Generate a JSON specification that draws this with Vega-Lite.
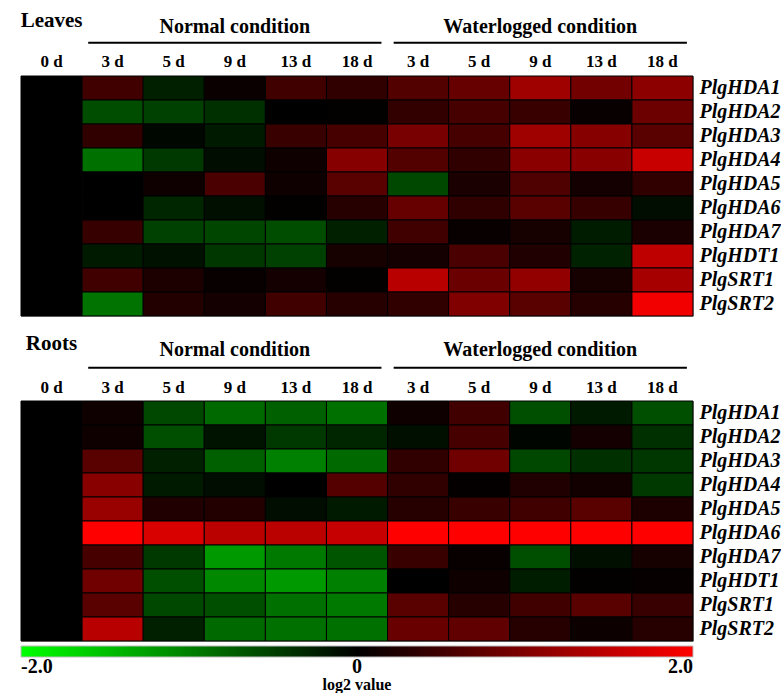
{
"$schema": "https://vega.github.io/schema/vega-lite/v6.json",
"padding": {"left": 20, "top": 0, "right": 0, "bottom": 0},
"background": "white",
"spacing": 0,
"config": {"view": {"stroke": null}, "font": "Liberation Serif", "concat": {"spacing": 0}},
"resolve": {"scale": {"color": "shared"}, "legend": {"color": "shared"}},
"datasets": {
"hdrL": [
{"kind": "tissue", "level": "group", "col": "c0", "text": "Leaves"},
{"kind": "cond", "level": "group", "col": "n9", "text": "Normal condition"},
{"kind": "cond", "level": "group", "col": "w9", "text": "Waterlogged condition"},
{"kind": "line", "level": "line", "col": "n3", "to": "n18"},
{"kind": "line", "level": "line", "col": "w3", "to": "w18"},
{"kind": "day", "level": "day", "col": "c0", "text": "0 d"},
{"kind": "day", "level": "day", "col": "n3", "text": "3 d"},
{"kind": "day", "level": "day", "col": "n5", "text": "5 d"},
{"kind": "day", "level": "day", "col": "n9", "text": "9 d"},
{"kind": "day", "level": "day", "col": "n13", "text": "13 d"},
{"kind": "day", "level": "day", "col": "n18", "text": "18 d"},
{"kind": "day", "level": "day", "col": "w3", "text": "3 d"},
{"kind": "day", "level": "day", "col": "w5", "text": "5 d"},
{"kind": "day", "level": "day", "col": "w9", "text": "9 d"},
{"kind": "day", "level": "day", "col": "w13", "text": "13 d"},
{"kind": "day", "level": "day", "col": "w18", "text": "18 d"}
],
"hdrR": [
{"kind": "tissue", "level": "group", "col": "c0", "text": "Roots"},
{"kind": "cond", "level": "group", "col": "n9", "text": "Normal condition"},
{"kind": "cond", "level": "group", "col": "w9", "text": "Waterlogged condition"},
{"kind": "line", "level": "line", "col": "n3", "to": "n18"},
{"kind": "line", "level": "line", "col": "w3", "to": "w18"},
{"kind": "day", "level": "day", "col": "c0", "text": "0 d"},
{"kind": "day", "level": "day", "col": "n3", "text": "3 d"},
{"kind": "day", "level": "day", "col": "n5", "text": "5 d"},
{"kind": "day", "level": "day", "col": "n9", "text": "9 d"},
{"kind": "day", "level": "day", "col": "n13", "text": "13 d"},
{"kind": "day", "level": "day", "col": "n18", "text": "18 d"},
{"kind": "day", "level": "day", "col": "w3", "text": "3 d"},
{"kind": "day", "level": "day", "col": "w5", "text": "5 d"},
{"kind": "day", "level": "day", "col": "w9", "text": "9 d"},
{"kind": "day", "level": "day", "col": "w13", "text": "13 d"},
{"kind": "day", "level": "day", "col": "w18", "text": "18 d"}
],
"leaves": [
{"gene":"PlgHDA1","col":"c0","v":0},{"gene":"PlgHDA1","col":"n3","v":0.5},{"gene":"PlgHDA1","col":"n5","v":-0.25},{"gene":"PlgHDA1","col":"n9","v":0.08},{"gene":"PlgHDA1","col":"n13","v":0.5},{"gene":"PlgHDA1","col":"n18","v":0.38},{"gene":"PlgHDA1","col":"w3","v":0.65},{"gene":"PlgHDA1","col":"w5","v":0.8},{"gene":"PlgHDA1","col":"w9","v":1.25},{"gene":"PlgHDA1","col":"w13","v":0.9},{"gene":"PlgHDA1","col":"w18","v":1.1},
{"gene":"PlgHDA2","col":"c0","v":0},{"gene":"PlgHDA2","col":"n3","v":-0.6},{"gene":"PlgHDA2","col":"n5","v":-0.5},{"gene":"PlgHDA2","col":"n9","v":-0.38},{"gene":"PlgHDA2","col":"n13","v":0},{"gene":"PlgHDA2","col":"n18","v":0.02},{"gene":"PlgHDA2","col":"w3","v":0.4},{"gene":"PlgHDA2","col":"w5","v":0.55},{"gene":"PlgHDA2","col":"w9","v":0.45},{"gene":"PlgHDA2","col":"w13","v":0.06},{"gene":"PlgHDA2","col":"w18","v":0.85},
{"gene":"PlgHDA3","col":"c0","v":0},{"gene":"PlgHDA3","col":"n3","v":0.38},{"gene":"PlgHDA3","col":"n5","v":-0.05},{"gene":"PlgHDA3","col":"n9","v":-0.2},{"gene":"PlgHDA3","col":"n13","v":0.45},{"gene":"PlgHDA3","col":"n18","v":0.55},{"gene":"PlgHDA3","col":"w3","v":0.95},{"gene":"PlgHDA3","col":"w5","v":0.55},{"gene":"PlgHDA3","col":"w9","v":1.25},{"gene":"PlgHDA3","col":"w13","v":1.05},{"gene":"PlgHDA3","col":"w18","v":0.7},
{"gene":"PlgHDA4","col":"c0","v":0},{"gene":"PlgHDA4","col":"n3","v":-0.88},{"gene":"PlgHDA4","col":"n5","v":-0.45},{"gene":"PlgHDA4","col":"n9","v":-0.1},{"gene":"PlgHDA4","col":"n13","v":0.12},{"gene":"PlgHDA4","col":"n18","v":1.05},{"gene":"PlgHDA4","col":"w3","v":0.65},{"gene":"PlgHDA4","col":"w5","v":0.38},{"gene":"PlgHDA4","col":"w9","v":1.08},{"gene":"PlgHDA4","col":"w13","v":1.07},{"gene":"PlgHDA4","col":"w18","v":1.57},
{"gene":"PlgHDA5","col":"c0","v":0},{"gene":"PlgHDA5","col":"n3","v":0},{"gene":"PlgHDA5","col":"n5","v":0.12},{"gene":"PlgHDA5","col":"n9","v":0.58},{"gene":"PlgHDA5","col":"n13","v":0.12},{"gene":"PlgHDA5","col":"n18","v":0.7},{"gene":"PlgHDA5","col":"w3","v":-0.56},{"gene":"PlgHDA5","col":"w5","v":0.2},{"gene":"PlgHDA5","col":"w9","v":0.62},{"gene":"PlgHDA5","col":"w13","v":0.16},{"gene":"PlgHDA5","col":"w18","v":0.38},
{"gene":"PlgHDA6","col":"c0","v":0},{"gene":"PlgHDA6","col":"n3","v":0},{"gene":"PlgHDA6","col":"n5","v":-0.3},{"gene":"PlgHDA6","col":"n9","v":-0.12},{"gene":"PlgHDA6","col":"n13","v":0.02},{"gene":"PlgHDA6","col":"n18","v":0.3},{"gene":"PlgHDA6","col":"w3","v":0.8},{"gene":"PlgHDA6","col":"w5","v":0.38},{"gene":"PlgHDA6","col":"w9","v":0.7},{"gene":"PlgHDA6","col":"w13","v":0.42},{"gene":"PlgHDA6","col":"w18","v":-0.1},
{"gene":"PlgHDA7","col":"c0","v":0},{"gene":"PlgHDA7","col":"n3","v":0.42},{"gene":"PlgHDA7","col":"n5","v":-0.5},{"gene":"PlgHDA7","col":"n9","v":-0.55},{"gene":"PlgHDA7","col":"n13","v":-0.6},{"gene":"PlgHDA7","col":"n18","v":-0.25},{"gene":"PlgHDA7","col":"w3","v":0.5},{"gene":"PlgHDA7","col":"w5","v":0.06},{"gene":"PlgHDA7","col":"w9","v":0.18},{"gene":"PlgHDA7","col":"w13","v":-0.22},{"gene":"PlgHDA7","col":"w18","v":0.2},
{"gene":"PlgHDT1","col":"c0","v":0},{"gene":"PlgHDT1","col":"n3","v":-0.2},{"gene":"PlgHDT1","col":"n5","v":-0.13},{"gene":"PlgHDT1","col":"n9","v":-0.42},{"gene":"PlgHDT1","col":"n13","v":-0.5},{"gene":"PlgHDT1","col":"n18","v":0.18},{"gene":"PlgHDT1","col":"w3","v":0.16},{"gene":"PlgHDT1","col":"w5","v":0.58},{"gene":"PlgHDT1","col":"w9","v":0.25},{"gene":"PlgHDT1","col":"w13","v":-0.27},{"gene":"PlgHDT1","col":"w18","v":1.5},
{"gene":"PlgSRT1","col":"c0","v":0},{"gene":"PlgSRT1","col":"n3","v":0.5},{"gene":"PlgSRT1","col":"n5","v":0.22},{"gene":"PlgSRT1","col":"n9","v":0.06},{"gene":"PlgSRT1","col":"n13","v":0.16},{"gene":"PlgSRT1","col":"n18","v":0.02},{"gene":"PlgSRT1","col":"w3","v":1.45},{"gene":"PlgSRT1","col":"w5","v":0.83},{"gene":"PlgSRT1","col":"w9","v":1.15},{"gene":"PlgSRT1","col":"w13","v":0.18},{"gene":"PlgSRT1","col":"w18","v":1.3},
{"gene":"PlgSRT2","col":"c0","v":0},{"gene":"PlgSRT2","col":"n3","v":-0.9},{"gene":"PlgSRT2","col":"n5","v":0.27},{"gene":"PlgSRT2","col":"n9","v":0.16},{"gene":"PlgSRT2","col":"n13","v":0.5},{"gene":"PlgSRT2","col":"n18","v":0.3},{"gene":"PlgSRT2","col":"w3","v":0.38},{"gene":"PlgSRT2","col":"w5","v":1.0},{"gene":"PlgSRT2","col":"w9","v":0.7},{"gene":"PlgSRT2","col":"w13","v":0.3},{"gene":"PlgSRT2","col":"w18","v":1.9}
],
"roots": [
{"gene":"PlgHDA1","col":"c0","v":0},{"gene":"PlgHDA1","col":"n3","v":0.12},{"gene":"PlgHDA1","col":"n5","v":-0.56},{"gene":"PlgHDA1","col":"n9","v":-0.82},{"gene":"PlgHDA1","col":"n13","v":-0.75},{"gene":"PlgHDA1","col":"n18","v":-0.88},{"gene":"PlgHDA1","col":"w3","v":0.12},{"gene":"PlgHDA1","col":"w5","v":0.5},{"gene":"PlgHDA1","col":"w9","v":-0.62},{"gene":"PlgHDA1","col":"w13","v":-0.2},{"gene":"PlgHDA1","col":"w18","v":-0.62},
{"gene":"PlgHDA2","col":"c0","v":0},{"gene":"PlgHDA2","col":"n3","v":0.12},{"gene":"PlgHDA2","col":"n5","v":-0.62},{"gene":"PlgHDA2","col":"n9","v":-0.15},{"gene":"PlgHDA2","col":"n13","v":-0.45},{"gene":"PlgHDA2","col":"n18","v":-0.3},{"gene":"PlgHDA2","col":"w3","v":-0.12},{"gene":"PlgHDA2","col":"w5","v":0.55},{"gene":"PlgHDA2","col":"w9","v":-0.04},{"gene":"PlgHDA2","col":"w13","v":0.16},{"gene":"PlgHDA2","col":"w18","v":-0.38},
{"gene":"PlgHDA3","col":"c0","v":0},{"gene":"PlgHDA3","col":"n3","v":0.7},{"gene":"PlgHDA3","col":"n5","v":-0.25},{"gene":"PlgHDA3","col":"n9","v":-0.75},{"gene":"PlgHDA3","col":"n13","v":-1.0},{"gene":"PlgHDA3","col":"n18","v":-0.82},{"gene":"PlgHDA3","col":"w3","v":0.38},{"gene":"PlgHDA3","col":"w5","v":0.88},{"gene":"PlgHDA3","col":"w9","v":-0.56},{"gene":"PlgHDA3","col":"w13","v":-0.38},{"gene":"PlgHDA3","col":"w18","v":-0.42},
{"gene":"PlgHDA4","col":"c0","v":0},{"gene":"PlgHDA4","col":"n3","v":1.07},{"gene":"PlgHDA4","col":"n5","v":-0.2},{"gene":"PlgHDA4","col":"n9","v":-0.1},{"gene":"PlgHDA4","col":"n13","v":0},{"gene":"PlgHDA4","col":"n18","v":0.67},{"gene":"PlgHDA4","col":"w3","v":0.38},{"gene":"PlgHDA4","col":"w5","v":0.03},{"gene":"PlgHDA4","col":"w9","v":0.25},{"gene":"PlgHDA4","col":"w13","v":0.14},{"gene":"PlgHDA4","col":"w18","v":-0.45},
{"gene":"PlgHDA5","col":"c0","v":0},{"gene":"PlgHDA5","col":"n3","v":1.2},{"gene":"PlgHDA5","col":"n5","v":0.25},{"gene":"PlgHDA5","col":"n9","v":0.27},{"gene":"PlgHDA5","col":"n13","v":-0.1},{"gene":"PlgHDA5","col":"n18","v":-0.2},{"gene":"PlgHDA5","col":"w3","v":0.3},{"gene":"PlgHDA5","col":"w5","v":0.45},{"gene":"PlgHDA5","col":"w9","v":0.5},{"gene":"PlgHDA5","col":"w13","v":0.7},{"gene":"PlgHDA5","col":"w18","v":0.22},
{"gene":"PlgHDA6","col":"c0","v":0},{"gene":"PlgHDA6","col":"n3","v":2.0},{"gene":"PlgHDA6","col":"n5","v":1.7},{"gene":"PlgHDA6","col":"n9","v":1.47},{"gene":"PlgHDA6","col":"n13","v":1.47},{"gene":"PlgHDA6","col":"n18","v":1.55},{"gene":"PlgHDA6","col":"w3","v":2.0},{"gene":"PlgHDA6","col":"w5","v":2.0},{"gene":"PlgHDA6","col":"w9","v":2.0},{"gene":"PlgHDA6","col":"w13","v":2.0},{"gene":"PlgHDA6","col":"w18","v":2.0},
{"gene":"PlgHDA7","col":"c0","v":0},{"gene":"PlgHDA7","col":"n3","v":0.55},{"gene":"PlgHDA7","col":"n5","v":-0.45},{"gene":"PlgHDA7","col":"n9","v":-1.2},{"gene":"PlgHDA7","col":"n13","v":-0.95},{"gene":"PlgHDA7","col":"n18","v":-0.67},{"gene":"PlgHDA7","col":"w3","v":0.45},{"gene":"PlgHDA7","col":"w5","v":0.06},{"gene":"PlgHDA7","col":"w9","v":-0.62},{"gene":"PlgHDA7","col":"w13","v":-0.12},{"gene":"PlgHDA7","col":"w18","v":0.18},
{"gene":"PlgHDT1","col":"c0","v":0},{"gene":"PlgHDT1","col":"n3","v":0.88},{"gene":"PlgHDT1","col":"n5","v":-0.62},{"gene":"PlgHDT1","col":"n9","v":-1.07},{"gene":"PlgHDT1","col":"n13","v":-1.2},{"gene":"PlgHDT1","col":"n18","v":-1.0},{"gene":"PlgHDT1","col":"w3","v":0},{"gene":"PlgHDT1","col":"w5","v":0.12},{"gene":"PlgHDT1","col":"w9","v":-0.23},{"gene":"PlgHDT1","col":"w13","v":0.02},{"gene":"PlgHDT1","col":"w18","v":0.05},
{"gene":"PlgSRT1","col":"c0","v":0},{"gene":"PlgSRT1","col":"n3","v":0.7},{"gene":"PlgSRT1","col":"n5","v":-0.56},{"gene":"PlgSRT1","col":"n9","v":-0.62},{"gene":"PlgSRT1","col":"n13","v":-0.88},{"gene":"PlgSRT1","col":"n18","v":-0.95},{"gene":"PlgSRT1","col":"w3","v":0.7},{"gene":"PlgSRT1","col":"w5","v":0.3},{"gene":"PlgSRT1","col":"w9","v":0.5},{"gene":"PlgSRT1","col":"w13","v":0.7},{"gene":"PlgSRT1","col":"w18","v":0.44},
{"gene":"PlgSRT2","col":"c0","v":0},{"gene":"PlgSRT2","col":"n3","v":1.45},{"gene":"PlgSRT2","col":"n5","v":-0.25},{"gene":"PlgSRT2","col":"n9","v":-0.82},{"gene":"PlgSRT2","col":"n13","v":-0.88},{"gene":"PlgSRT2","col":"n18","v":-0.88},{"gene":"PlgSRT2","col":"w3","v":0.82},{"gene":"PlgSRT2","col":"w5","v":0.75},{"gene":"PlgSRT2","col":"w9","v":0.3},{"gene":"PlgSRT2","col":"w13","v":0.1},{"gene":"PlgSRT2","col":"w18","v":0.3}
]
},
"vconcat": [
{
"width": 672, "height": 75,
"data": {"name": "hdrL"},
"encoding": {
"x": {"field": "col", "type": "nominal", "scale": {"domain": ["c0","n3","n5","n9","n13","n18","w3","w5","w9","w13","w18"], "paddingInner": 0, "paddingOuter": 0}, "axis": null},
"y": {"field": "level", "type": "nominal", "scale": {"type": "point", "domain": ["group","line","day"], "padding": 1.273, "align": 0.643}, "axis": null}
},
"layer": [
{"transform": [{"filter": "datum.kind == 'tissue'"}], "mark": {"type": "text", "fontSize": 21, "fontWeight": "bold", "font": "Liberation Serif", "color": "black", "dy": -3}, "encoding": {"text": {"field": "text"}}},
{"transform": [{"filter": "datum.kind == 'cond'"}], "mark": {"type": "text", "fontSize": 20, "fontWeight": "bold", "font": "Liberation Serif", "color": "black", "dy": 3}, "encoding": {"text": {"field": "text"}}},
{"transform": [{"filter": "datum.kind == 'day'"}], "mark": {"type": "text", "fontSize": 17, "fontWeight": "bold", "font": "Liberation Serif", "color": "black"}, "encoding": {"text": {"field": "text"}}},
{"transform": [{"filter": "datum.kind == 'line'"}], "mark": {"type": "rule", "strokeWidth": 2, "color": "black"}, "encoding": {"x": {"field": "col", "type": "nominal", "bandPosition": 0.1}, "x2": {"field": "to", "bandPosition": 0.9}}}
]
},
{
"width": 672, "height": 240,
"data": {"name": "leaves"},
"view": {"stroke": "#b0b0b0"},
"mark": {"type": "rect", "stroke": "#000000", "strokeWidth": 1},
"encoding": {
"x": {"field": "col", "type": "nominal", "scale": {"domain": ["c0","n3","n5","n9","n13","n18","w3","w5","w9","w13","w18"], "paddingInner": 0, "paddingOuter": 0}, "axis": null},
"y": {"field": "gene", "type": "nominal", "sort": ["PlgHDA1","PlgHDA2","PlgHDA3","PlgHDA4","PlgHDA5","PlgHDA6","PlgHDA7","PlgHDT1","PlgSRT1","PlgSRT2"], "scale": {"paddingInner": 0, "paddingOuter": 0}, "axis": {"orient": "right", "title": null, "ticks": false, "domain": false, "labelFont": "Liberation Serif", "labelFontWeight": "bold", "labelFontStyle": "italic", "labelFontSize": 20, "labelColor": "black", "labelPadding": 6}},
"color": {"field": "v", "type": "quantitative", "scale": {"domain": [-2, 0, 2], "range": ["#00ff00", "#000000", "#ff0000"], "interpolate": "rgb"},
"legend": {"orient": "bottom", "direction": "horizontal", "gradientLength": 672, "gradientThickness": 11, "values": [-2, 0, 2], "labelExpr": "datum.value == 0 ? '0' : replace(format(datum.value, '.1f'), '\u2212', '-')", "labelFont": "Liberation Serif", "labelFontWeight": "bold", "labelFontSize": 20, "labelColor": "black", "labelOffset": 0, "title": "log2 value", "titleOrient": "bottom", "titleAnchor": "middle", "titleFont": "Liberation Serif", "titleFontWeight": "bold", "titleFontSize": 16, "titleColor": "black", "titlePadding": 0, "offset": 4, "gradientStrokeColor": "#bbbbbb", "gradientStrokeWidth": 1}}
}
},
{
"width": 672, "height": 83,
"data": {"name": "hdrR"},
"encoding": {
"x": {"field": "col", "type": "nominal", "scale": {"domain": ["c0","n3","n5","n9","n13","n18","w3","w5","w9","w13","w18"], "paddingInner": 0, "paddingOuter": 0}, "axis": null},
"y": {"field": "level", "type": "nominal", "scale": {"type": "point", "domain": ["group","line","day"], "padding": 1.515, "align": 0.72}, "axis": null}
},
"layer": [
{"transform": [{"filter": "datum.kind == 'tissue'"}], "mark": {"type": "text", "fontSize": 21, "fontWeight": "bold", "font": "Liberation Serif", "color": "black", "dy": -3}, "encoding": {"text": {"field": "text"}}},
{"transform": [{"filter": "datum.kind == 'cond'"}], "mark": {"type": "text", "fontSize": 20, "fontWeight": "bold", "font": "Liberation Serif", "color": "black", "dy": 3}, "encoding": {"text": {"field": "text"}}},
{"transform": [{"filter": "datum.kind == 'day'"}], "mark": {"type": "text", "fontSize": 17, "fontWeight": "bold", "font": "Liberation Serif", "color": "black"}, "encoding": {"text": {"field": "text"}}},
{"transform": [{"filter": "datum.kind == 'line'"}], "mark": {"type": "rule", "strokeWidth": 2, "color": "black"}, "encoding": {"x": {"field": "col", "type": "nominal", "bandPosition": 0.1}, "x2": {"field": "to", "bandPosition": 0.9}}}
]
},
{
"width": 672, "height": 240,
"data": {"name": "roots"},
"view": {"stroke": "#b0b0b0"},
"mark": {"type": "rect", "stroke": "#000000", "strokeWidth": 1},
"encoding": {
"x": {"field": "col", "type": "nominal", "scale": {"domain": ["c0","n3","n5","n9","n13","n18","w3","w5","w9","w13","w18"], "paddingInner": 0, "paddingOuter": 0}, "axis": null},
"y": {"field": "gene", "type": "nominal", "sort": ["PlgHDA1","PlgHDA2","PlgHDA3","PlgHDA4","PlgHDA5","PlgHDA6","PlgHDA7","PlgHDT1","PlgSRT1","PlgSRT2"], "scale": {"paddingInner": 0, "paddingOuter": 0}, "axis": {"orient": "right", "title": null, "ticks": false, "domain": false, "labelFont": "Liberation Serif", "labelFontWeight": "bold", "labelFontStyle": "italic", "labelFontSize": 20, "labelColor": "black", "labelPadding": 6}},
"color": {"field": "v", "type": "quantitative", "scale": {"domain": [-2, 0, 2], "range": ["#00ff00", "#000000", "#ff0000"], "interpolate": "rgb"},
"legend": {"orient": "bottom", "direction": "horizontal", "gradientLength": 672, "gradientThickness": 11, "values": [-2, 0, 2], "labelExpr": "datum.value == 0 ? '0' : replace(format(datum.value, '.1f'), '\u2212', '-')", "labelFont": "Liberation Serif", "labelFontWeight": "bold", "labelFontSize": 20, "labelColor": "black", "labelOffset": 0, "title": "log2 value", "titleOrient": "bottom", "titleAnchor": "middle", "titleFont": "Liberation Serif", "titleFontWeight": "bold", "titleFontSize": 16, "titleColor": "black", "titlePadding": 0, "offset": 4, "gradientStrokeColor": "#bbbbbb", "gradientStrokeWidth": 1}}
}
}
]
}
